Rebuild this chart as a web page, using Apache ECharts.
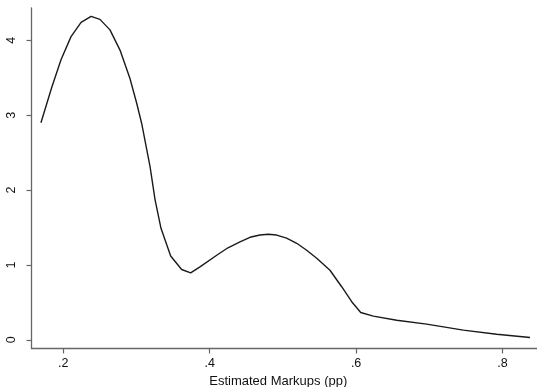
<!DOCTYPE html>
<html>
<head>
<meta charset="utf-8">
<script src="https://cdn.jsdelivr.net/npm/echarts@6/dist/echarts.min.js"></script>
<style>
  html, body { margin: 0; padding: 0; background: #fff; }
  #main { width: 537px; height: 387px; }
</style>
</head>
<body>
<div id="main"></div>
<script>
// density estimate
var markupX = [0.1695, 0.1842, 0.1969, 0.2106, 0.2243, 0.2380, 0.2501, 0.2638, 0.2775, 0.2911,
    0.3003, 0.3071, 0.3186, 0.3254, 0.3335, 0.3467, 0.3617, 0.3740, 0.3867, 0.4096,
    0.4250, 0.4414, 0.4550, 0.4687, 0.4800, 0.4915, 0.5050, 0.5189, 0.5320, 0.5462,
    0.5643, 0.5803, 0.5940, 0.6063, 0.6235, 0.6555, 0.6964, 0.7464, 0.7921, 0.8376];
var density = [2.90, 3.37, 3.74, 4.05, 4.24, 4.32, 4.28, 4.14, 3.87, 3.49,
    3.16, 2.89, 2.31, 1.87, 1.49, 1.12, 0.94, 0.895, 0.975, 1.13,
    1.23, 1.31, 1.37, 1.40, 1.41, 1.40, 1.36, 1.29, 1.20, 1.09,
    0.93, 0.71, 0.51, 0.366, 0.317, 0.263, 0.21, 0.13, 0.076, 0.032];
var xTicks = [0.2, 0.4, 0.6, 0.8];
var yTicks = [0, 1, 2, 3, 4];

var chart = echarts.init(document.getElementById('main'));

var pts = [];
for (var i = 0; i < markupX.length; i++) {
    pts.push([markupX[i], density[i]]);
}

function fmt(v) {
    // Stata style: .2 instead of 0.2
    var s = String(Math.round(v * 10) / 10);
    return s.replace(/^0\./, '.');
}

var axisCol = '#666';

chart.setOption({
    animation: false,
    grid: { left: 31.5, right: 0, top: 8, bottom: 38.5, containLabel: false, outerBoundsMode: 'none' },
    xAxis: {
        type: 'value',
        min: 0.1566,
        max: 0.8471,
        name: 'Estimated Markups (pp)',
        nameLocation: 'middle',
        nameGap: 22,
        nameTextStyle: { fontFamily: 'Liberation Sans', fontSize: 13, color: '#111', padding: [0, 12, 0, 0] },
        axisLine: { onZero: false, lineStyle: { color: axisCol, width: 1.3 } },
        axisTick: { show: true, length: 5, customValues: xTicks, lineStyle: { color: axisCol, width: 1.2 } },
        axisLabel: {
            customValues: xTicks,
            formatter: fmt,
            margin: 9,
            fontFamily: 'Liberation Sans',
            fontSize: 12.5,
            color: '#111'
        },
        splitLine: { show: false }
    },
    yAxis: {
        type: 'value',
        min: -0.115,
        max: 4.432,
        axisLine: { show: true, onZero: false, lineStyle: { color: axisCol, width: 1.3 } },
        axisTick: { show: true, length: 5, customValues: yTicks, lineStyle: { color: axisCol, width: 1.2 } },
        axisLabel: {
            customValues: yTicks,
            rotate: 90,
            margin: 13,
            fontFamily: 'Liberation Sans',
            fontSize: 12.5,
            color: '#111'
        },
        splitLine: { show: false }
    },
    series: [{
        type: 'line',
        data: pts,
        showSymbol: false,
        smooth: false,
        lineStyle: { color: '#1a1a1a', width: 1.4 }
    }]
});
</script>
</body>
</html>
